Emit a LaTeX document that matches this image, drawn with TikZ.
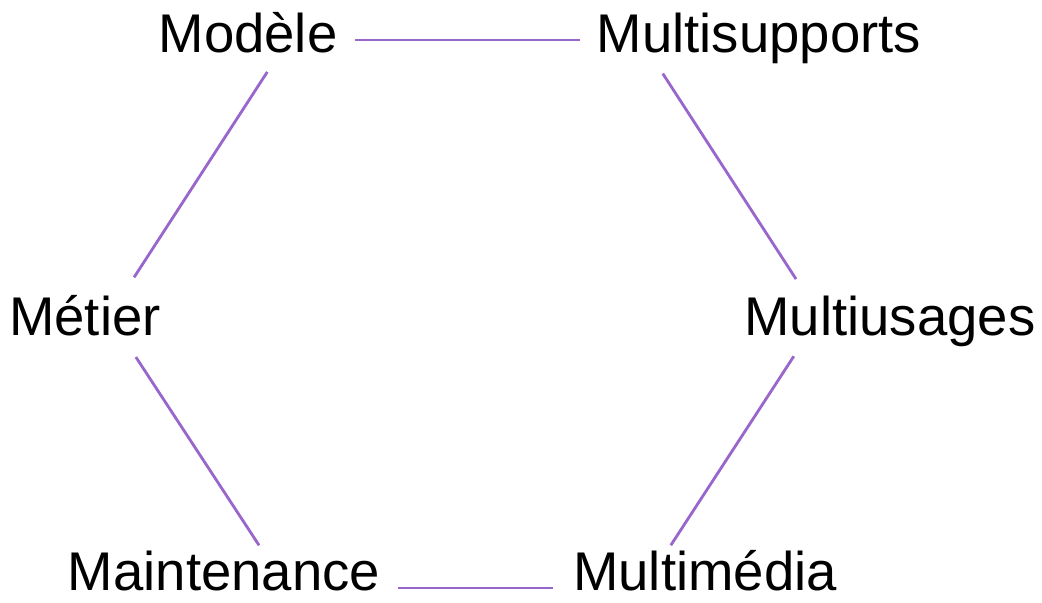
\documentclass[tikz,border=0pt]{standalone}
\usepackage{fontspec}
\setmainfont{Liberation Sans}
\usepackage{tikz}
\usetikzlibrary{calc}
\definecolor{linkpurple}{HTML}{9966CC}

\begin{document}
\begin{tikzpicture}[x=0.01cm, y=-0.01cm,
    label/.style={anchor=base, inner sep=0pt, font=\fontsize{15.5}{18}\selectfont},
    link/.style={draw=linkpurple, line width=0.8pt}]
  \useasboundingbox (0,0) rectangle (1042,602);

  % hexagon corners
  \coordinate (vA) at (288,40);
  \coordinate (vB) at (641,40);
  \coordinate (vC) at (820,316);
  \coordinate (vD) at (643,588);
  \coordinate (vE) at (287,588);
  \coordinate (vF) at (109,316);

  \node[label] at (248,52) (modele) {Modèle};
  \node[label] at (759,52) (multisupports) {Multisupports};
  \node[label] at (890,335) (multiusages) {Multiusages};
  \node[label] at (705,590) (multimedia) {Multimédia};
  \node[label] at (224,590) (maintenance) {Maintenance};
  \node[label] at (85,335) (metier) {Métier};

  \draw[link, shorten <=0.67cm, shorten >=0.61cm] (vA) -- (vB);
  \draw[link, shorten <=0.40cm, shorten >=0.44cm] (vB) -- (vC);
  \draw[link, shorten <=0.48cm, shorten >=0.51cm] (vC) -- (vD);
  \draw[link, shorten <=0.90cm, shorten >=1.11cm] (vD) -- (vE);
  \draw[link, shorten <=0.51cm, shorten >=0.49cm] (vE) -- (vF);
  \draw[link, shorten <=0.46cm, shorten >=0.38cm] (vF) -- (vA);
\end{tikzpicture}
\end{document}
